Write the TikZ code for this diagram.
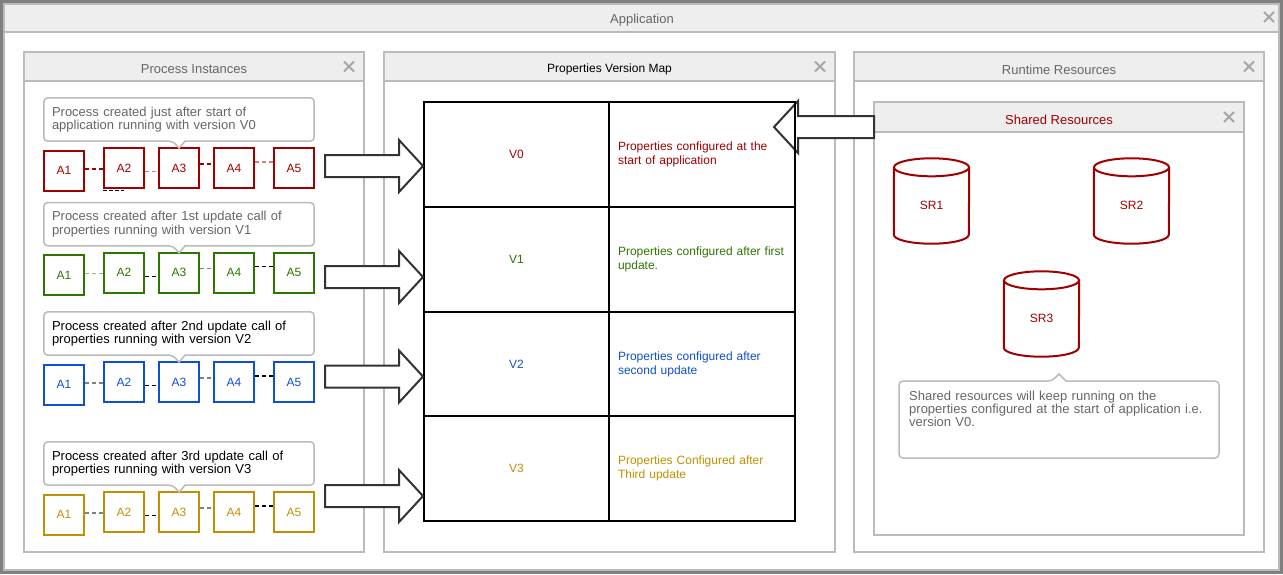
\documentclass[tikz,border=0pt]{standalone}
\usepackage{fontspec}
\setmainfont{Liberation Sans}
\usetikzlibrary{calc}
\usetikzlibrary{positioning}

\definecolor{pred}{HTML}{A00000}
\definecolor{pgreen}{HTML}{2D7600}
\definecolor{pblue}{HTML}{0F50D2}
\definecolor{pgold}{HTML}{C09000}
\definecolor{hdr}{HTML}{EEEEEE}
\definecolor{frm}{HTML}{BBBBBB}
\definecolor{txtgray}{HTML}{666666}

\newcommand{\closex}[1]{\draw[gray!70, line width=1.8pt] ($(#1)+(-5,-5)$) -- ($(#1)+(5,5)$) ($(#1)+(-5,5)$) -- ($(#1)+(5,-5)$);}

\newcommand{\panel}[9]{%
 \draw[frm, line width=2pt, fill=white] (#2,#3) rectangle (#4,#5);
 \draw[frm, line width=2pt, fill=hdr] (#2,#3) rectangle (#4,#3+#8);
 \node[text=#7, font=\fontsize{#9}{#9}\selectfont] (#1) at ({(#2+#4)/2},{#3+#8/2+3}) {#6};
 \closex{#4-15,#3+#8/2}}

\newcommand{\blockarrow}[2]{%
 \path ($(#2)!24pt!(#1)$) coordinate (hb);
 \draw[barrow] ($(#1)+(0,-11)$) -- ($(hb)+(0,-11)$) -- ($(hb)+(0,-26)$) -- (#2) -- ($(hb)+(0,26)$) -- ($(hb)+(0,11)$) -- ($(#1)+(0,11)$) -- cycle;}

\begin{document}
\begin{tikzpicture}[x=1pt,y=-1pt,
 box/.style={draw, line width=2pt, fill=white, minimum size=40pt, inner sep=0pt, font=\fontsize{12}{14}\selectfont},
 link/.style={dash pattern=on 4pt off 3pt, line width=1.3pt},
 bubble/.style={draw=frm, line width=1.5pt},
 cell/.style={draw, line width=2pt, minimum height=104.75pt, inner sep=0pt, font=\fontsize{12}{14}\selectfont},
 barrow/.style={draw=black!80, line width=2pt, fill=white, line join=miter},
 cyl/.style={draw=pred, line width=2pt}]
\useasboundingbox (0,0) rectangle (1283,574);

\draw[frm, line width=2pt, fill=white] (4,4) rectangle (1279,570);
\draw[frm, line width=2pt, fill=hdr] (4,4) rectangle (1279,32);
\draw[gray, line width=3pt] (1.5,1.5) rectangle (1281.5,572.5);
\node[text=txtgray, font=\fontsize{13}{13}\selectfont] (app) at (642,20) {Application};
\closex{1269,17}

\panel{pinst}{24}{52}{364}{552}{Process Instances}{txtgray}{29}{13}
\panel{pvmap}{384}{52}{835}{552}{Properties Version Map}{black}{29}{12}
\panel{rtres}{854}{52}{1264}{552}{Runtime Resources}{txtgray}{29}{13}
\panel{shres}{874}{102}{1244}{535}{Shared Resources}{pred}{30}{13}

\coordinate (shl) at (874,127);
\coordinate (tipl) at (774,127);
\blockarrow{shl}{tipl}

\foreach \k/\col/\ptxt in {0/pred/{Properties configured at the\\start of application},
 1/pgreen/{Properties configured after first\\update.},
 2/pblue/{Properties configured after\\second update},
 3/pgold/{Properties Configured after\\Third update}} {
 \node[cell, minimum width=185pt, text=\col] (v\k) at (516.5,154.4+104.75*\k) {V\k};
 \node[cell, text width=168pt, inner xsep=9pt, align=left, text=\col] (p\k) at (702,154.4+104.75*\k) {\ptxt};
}

\foreach \k/\col/\tcol/\lka/\lkb/\lkc/\cy/\ay/\msg in {
 0/pred/txtgray/pred/pred/pred!50/168/166/{Process created just after start of\\application running with version V0},
 1/pgreen/txtgray/pgreen!50/gray/black/272.7/277/{Process created after 1st update call of\\properties running with version V1},
 2/pblue/black/gray/gray/black/382/376.5/{Process created after 2nd update call of\\properties running with version V2},
 3/pgold/black/gray/gray/black/512/496/{Process created after 3rd update call of\\properties running with version V3}} {
 \node[box, draw=\col, text=\col] (a\k1) at (64,\cy+2.5) {A1};
 \foreach \i/\x in {2/124,3/179,4/234,5/294}
  \node[box, draw=\col, text=\col] (a\k\i) at (\x,\cy) {A\i};
 \foreach \i/\j/\dy/\lk in {1/2/-1pt/\lka, 2/3/-3.5pt/\lkc, 3/4/4pt/\lkb, 4/5/6pt/\lkc}
  \draw[link, color=\lk] ([yshift=\dy]a\k\j.west -| a\k\i.east) -- ([yshift=\dy]a\k\j.west);
 \node[align=left, text width=254pt, minimum width=270pt, minimum height=43pt, inner xsep=8pt, text=\tcol, font=\fontsize{13}{13.5}\selectfont] (c\k) at (179,\cy-48.5) {\msg};
 \draw[bubble] ($(c\k.south)+(6,0)$) [rounded corners=4pt] -- (c\k.south east) -- (c\k.north east) -- (c\k.north west) -- (c\k.south west) -- ($(c\k.south)+(-6,0)$) [sharp corners] -- ($(c\k.south)+(0,7)$) -- cycle;
 \coordinate (s\k) at (325,\ay);
 \blockarrow{s\k}{v\k.west |- s\k}
}
\draw[black, dash pattern=on 4pt off 2pt, line width=1pt] ([yshift=-1pt]a02.south west) -- ([yshift=-1pt]a02.south);

\foreach \n/\lbl/\x/\y in {sr1/SR1/931.5/205.5, sr2/SR2/1131.5/205.5, sr3/SR3/1041.5/318.5} {
 \node[minimum width=75pt, minimum height=76pt, inner sep=0pt, text=pred, font=\fontsize{12}{14}\selectfont] (\n) at (\x,\y) {\lbl};
 \draw[cyl] (\n.north west) -- ($(\n.south west)+(0,-9)$) arc[start angle=180, end angle=0, x radius=37.5, y radius=9] -- (\n.north east);
 \draw[cyl] (\n.north) ellipse [x radius=37.5, y radius=9];
}

\node[anchor=north west, align=left, text width=300pt, inner sep=0pt, text=txtgray, font=\fontsize{13}{13}\selectfont] (note) at (909,390.5) {Shared resources will keep running on the\\properties configured at the start of application i.e.\\version V0.};
\draw[bubble] (1066,381) [rounded corners=4pt] -- (1219,381) -- (1219,458) -- (899,458) -- (899,381) -- (1052,381) [sharp corners] -- (1059,374) -- cycle;
\end{tikzpicture}
\end{document}
